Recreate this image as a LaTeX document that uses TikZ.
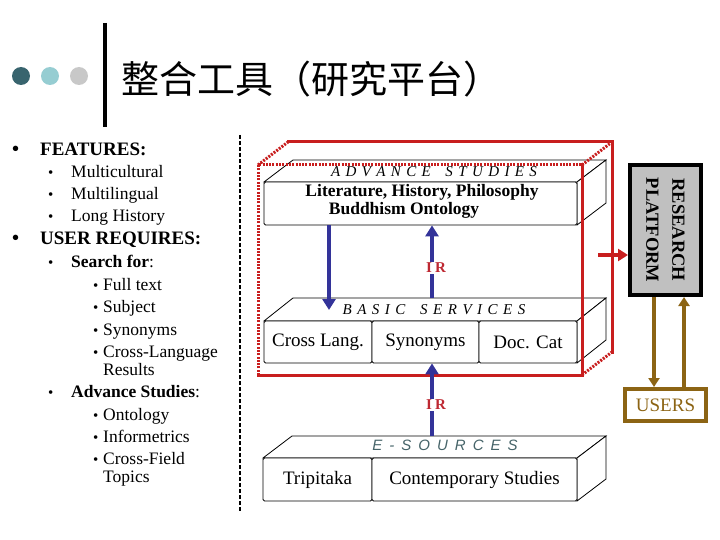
\documentclass[tikz,border=0pt]{standalone}
\usepackage{fontspec}
\setmainfont{Liberation Serif}
\newfontfamily\cjk{Noto Sans CJK TC}
\newfontfamily\sansit{Liberation Sans}
\usetikzlibrary{arrows.meta}
\definecolor{darkteal}{RGB}{56,100,110}
\definecolor{lightteal}{RGB}{150,205,210}
\definecolor{lgray}{RGB}{200,200,200}
\definecolor{bblue}{RGB}{51,51,153}
\definecolor{rred}{RGB}{200,30,30}
\definecolor{irred}{RGB}{190,40,50}
\definecolor{brownc}{RGB}{140,100,20}
\definecolor{esrc}{RGB}{70,100,105}
\definecolor{rpgray}{RGB}{192,192,192}
\def\spckern{5.4pt}
\def\spc#1{\spcaux#1\relax\kern-\spckern}
\def\spcaux#1{\ifx\relax#1\else#1\kern\spckern\expandafter\spcaux\fi}
\begin{document}
\begin{tikzpicture}[x=1pt,y=-1pt,
  lvA/.style={anchor=base west,inner sep=0pt,font=\fontsize{19}{21}\selectfont\bfseries},
  lvB/.style={anchor=base west,inner sep=0pt,font=\fontsize{17.5}{19}\selectfont},
  bulA/.style={anchor=base west,inner sep=0pt,font=\fontsize{20}{21}\selectfont\bfseries},
  bulB/.style={anchor=base west,inner sep=0pt,font=\fontsize{15}{17}\selectfont},
  cell/.style={draw,fill=white,line width=0.8pt,inner sep=0pt,rounded corners=1.5pt,font=\fontsize{19}{21}\selectfont},
  face/.style={draw,fill=white,line width=0.8pt},
  barrow/.style={draw=bblue,line width=4pt,-{Triangle[width=13pt,length=11pt]},bblue},
  brarrow/.style={draw=brownc,line width=4pt,-{Triangle[width=11pt,length=9pt]},brownc},
  redsolid/.style={draw=rred,line width=3pt,line cap=rect},
  reddot/.style={draw=rred,line width=3pt,dash pattern=on 2pt off 1.3pt},
  irlab/.style={fill=white,inner sep=1.5pt,text=irred,font=\fontsize{15}{17}\selectfont\bfseries},
  hdr/.style={inner sep=0pt,font=\fontsize{15}{17}\selectfont\itshape}
]
\useasboundingbox (0,0) rectangle (720,540);

% ---- title ----
\fill[darkteal] (21,76) circle (9);
\fill[lightteal] (50,76) circle (9);
\fill[lgray] (79,76) circle (9);
\draw[line width=4pt] (105,23) -- (105,127);
\node (title) [anchor=west,inner sep=0pt,font=\cjk\fontsize{38}{40}\selectfont] at (121,79) {整合工具（研究平台）};

% ---- left column ----
\node (b1) [bulA] at (12,156) {\textbullet};
\node (t1) [lvA] at (40,156) {FEATURES:};
\node (b2) [bulB] at (48,177.5) {\textbullet};
\node (t2) [lvB] at (71,177.5) {Multicultural};
\node (b3) [bulB] at (48,199.5) {\textbullet};
\node (t3) [lvB] at (71,199.5) {Multilingual};
\node (b4) [bulB] at (48,221.5) {\textbullet};
\node (t4) [lvB] at (71,221.5) {Long History};
\node (b5) [bulA] at (12,244) {\textbullet};
\node (t5) [lvA] at (40,244) {USER REQUIRES:};
\node (b6) [bulB] at (48,267.5) {\textbullet};
\node (t6) [lvB] at (71,267.5) {\textbf{Search for}:};
\node (b7) [bulB] at (93,290.5) {\textbullet};
\node (t7) [lvB] at (103,290.5) {Full text};
\node (b8) [bulB] at (93,312.5) {\textbullet};
\node (t8) [lvB] at (103,312.5) {Subject};
\node (b9) [bulB] at (93,335) {\textbullet};
\node (t9) [lvB] at (103,335) {Synonyms};
\node (b10) [bulB] at (93,357) {\textbullet};
\node (t10) [lvB] at (103,357) {Cross-Language};
\node (t10b) [lvB] at (103,375) {Results};
\node (b11) [bulB] at (48,397.5) {\textbullet};
\node (t11) [lvB] at (71,397.5) {\textbf{Advance Studies}:};
\node (b12) [bulB] at (93,420) {\textbullet};
\node (t12) [lvB] at (103,420) {Ontology};
\node (b13) [bulB] at (93,442) {\textbullet};
\node (t13) [lvB] at (103,442) {Informetrics};
\node (b14) [bulB] at (93,464) {\textbullet};
\node (t14) [lvB] at (103,464) {Cross-Field};
\node (t14b) [lvB] at (103,482) {Topics};

\draw[line width=1.3pt,dash pattern=on 4pt off 2pt] (240,135) -- (240,512);

% ---- advance studies slab ----
\draw[face] (264,182) -- ++(29,-22) -- (606,160) -- (577,182) -- cycle;
\draw[face] (577,182) -- (606,160) -- (606,203) -- (577,225) -- cycle;
\node (adv) [cell,minimum width=313pt,minimum height=43pt] at (420.5,203.5) {};
\node (advhdr) [hdr] at (434,172) {\def\spckern{5.4pt}\spc{ADVANCE~STUDIES}};
\node (advl1) [inner sep=0pt,font=\fontsize{17.5}{19}\selectfont\bfseries] at (422,192) {Literature, History, Philosophy};
\node (advl2) [inner sep=0pt,font=\fontsize{17.5}{19}\selectfont\bfseries] at (404,210) {Buddhism Ontology};

% ---- basic services slab ----
\draw[face] (264,321) -- (293,298) -- (606,298) -- (577,321) -- cycle;
\draw[face] (577,321) -- (606,298) -- (606,340) -- (577,363) -- cycle;
\node (cl) [cell,minimum width=108pt,minimum height=42pt] at (318,342) {Cross Lang.};
\node (syn) [cell,minimum width=107pt,minimum height=42pt] at (425.5,342) {Synonyms};
\node (dc) [cell,minimum width=98pt,minimum height=42pt] at (528,342) {Doc. Cat};
\node (bashdr) [hdr] at (434,310) {\def\spckern{5.5pt}\spc{BASIC~SERVICES}};

% ---- e-sources slab ----
\draw[face] (263,458) -- (292,436) -- (606,436) -- (577,458) -- cycle;
\draw[face] (577,458) -- (606,436) -- (606,479) -- (577,501) -- cycle;
\node (trip) [cell,minimum width=109pt,minimum height=43pt] at (317.5,479.5) {Tripitaka};
\node (cont) [cell,minimum width=205pt,minimum height=43pt] at (474.5,479.5) {Contemporary Studies};
\node (eshdr) [inner sep=0pt,text=esrc,font=\sansit\fontsize{15}{17}\selectfont\itshape] at (445,445) {\def\spckern{7pt}\spc{E-SOURCES}};

% ---- red research box ----
\draw[redsolid] (288,142) -- (612,142) -- (612,352);
\draw[redsolid] (582,165) -- (582,375) -- (258,375);
\draw[reddot] (258,375) -- (258,165) -- (582,165);
\draw[reddot] (258,165) -- (288,142);
\draw[reddot] (582,165) -- (612,142);
\draw[reddot] (582,375) -- (612,352);

% ---- blue arrows ----
\coordinate (dtip) at (329,310);
\coordinate (ir1s) at (432,298);
\coordinate (ir2s) at (432,436);
\draw[barrow] (adv.south -| dtip) -- (dtip);
\draw[barrow] (ir1s) -- (adv.south -| ir1s);
\draw[barrow] (ir2s) -- (syn.south -| ir2s);
\node (ir1) [irlab] at (436,268) {I\kern3pt R};
\node (ir2) [irlab] at (436,405) {I\kern3pt R};

% ---- research platform ----
\node (rp) [draw,line width=4pt,fill=rpgray,minimum width=71pt,minimum height=130pt,inner sep=0pt] at (665.5,230) {};
\node (rptext) [rotate=-90,align=center,inner sep=0pt,font=\fontsize{18.5}{26}\selectfont\bfseries] at (rp.center) {RESEARCH\\PLATFORM};
\coordinate (rs) at (598,255);
\draw[draw=rred,line width=4pt,-{Triangle[width=12pt,length=10pt]},rred] (rs) -- (rp.west |- rs);

% ---- users ----
\node (users) [draw=brownc,line width=4pt,minimum width=81pt,minimum height=32pt,inner sep=0pt,text=brownc,font=\fontsize{19}{21}\selectfont] at (665.5,405) {USERS};
\coordinate (bd) at (654,300);
\coordinate (bu) at (684,300);
\draw[brarrow] (rp.south -| bd) -- (users.north -| bd);
\draw[brarrow] (users.north -| bu) -- (rp.south -| bu);
\end{tikzpicture}
\end{document}
